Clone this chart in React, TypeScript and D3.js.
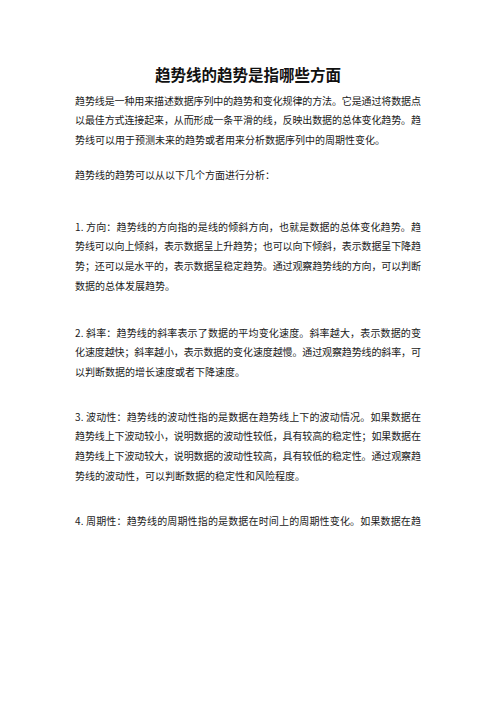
import * as d3 from "d3"

const title = "趋势线的趋势是指哪些方面"

// each paragraph is a list of the lines as broken on the page
const paraIntro = [
  "趋势线是一种用来描述数据序列中的趋势和变化规律的方法。它是通过将数据点",
  "以最佳方式连接起来，从而形成一条平滑的线，反映出数据的总体变化趋势。趋",
  "势线可以用于预测未来的趋势或者用来分析数据序列中的周期性变化。",
]
const paraLead = ["趋势线的趋势可以从以下几个方面进行分析："]
const paraDirection = [
  "1. 方向：趋势线的方向指的是线的倾斜方向，也就是数据的总体变化趋势。趋",
  "势线可以向上倾斜，表示数据呈上升趋势；也可以向下倾斜，表示数据呈下降趋",
  "势；还可以是水平的，表示数据呈稳定趋势。通过观察趋势线的方向，可以判断",
  "数据的总体发展趋势。",
]
const paraSlope = [
  "2. 斜率：趋势线的斜率表示了数据的平均变化速度。斜率越大，表示数据的变",
  "化速度越快；斜率越小，表示数据的变化速度越慢。通过观察趋势线的斜率，可",
  "以判断数据的增长速度或者下降速度。",
]
const paraVolatility = [
  "3. 波动性：趋势线的波动性指的是数据在趋势线上下的波动情况。如果数据在",
  "趋势线上下波动较小，说明数据的波动性较低，具有较高的稳定性；如果数据在",
  "趋势线上下波动较大，说明数据的波动性较高，具有较低的稳定性。通过观察趋",
  "势线的波动性，可以判断数据的稳定性和风险程度。",
]
// last paragraph is cut off at the page bottom, so its line is full width
const paraPeriod = ["4. 周期性：趋势线的周期性指的是数据在时间上的周期性变化。如果数据在趋"]

const paragraphs = [paraIntro, paraLead, paraDirection, paraSlope, paraVolatility, paraPeriod]

export default function App() {
  const page = { width: 496, height: 702, left: 75, right: 421 }
  const lineHeight = 19.6
  // extra space (px) between the last line of a paragraph and the next one
  const gaps = [35, 52, 47, 45, 45]

  // offset (px from first line) -> y position of the line centre
  const yScale = d3.scaleLinear().domain([0, 1]).range([100, 101])

  const rows: { text: string; offset: number; justify: boolean }[] = []
  let offset = 0
  paragraphs.forEach((p, pi) => {
    p.forEach((line, li) => {
      const isLast = li === p.length - 1 && pi !== paragraphs.length - 1
      rows.push({ text: line, offset, justify: !isLast })
      if (li < p.length - 1) offset += lineHeight
    })
    offset += gaps[pi] ?? 0
  })

  const font = '"Noto Sans CJK SC", "Noto Sans", sans-serif'

  return (
    <svg
      width={page.width}
      height={page.height}
      style={{ position: "absolute", left: 0, top: 0, background: "#fff" }}
    >
      <text
        x={page.width / 2}
        y={74}
        textAnchor="middle"
        dominantBaseline="central"
        fontFamily={font}
        fontSize={15.5}
        fontWeight="bold"
        fill="#111"
      >
        {title}
      </text>
      {rows.map((r, i) => (
        <text
          key={i}
          x={page.left}
          y={yScale(r.offset)}
          dominantBaseline="central"
          fontFamily={font}
          fontSize={10}
          fill="#1a1a1a"
          textLength={r.justify ? page.right - page.left : undefined}
          lengthAdjust="spacing"
        >
          {r.text}
        </text>
      ))}
    </svg>
  )
}
